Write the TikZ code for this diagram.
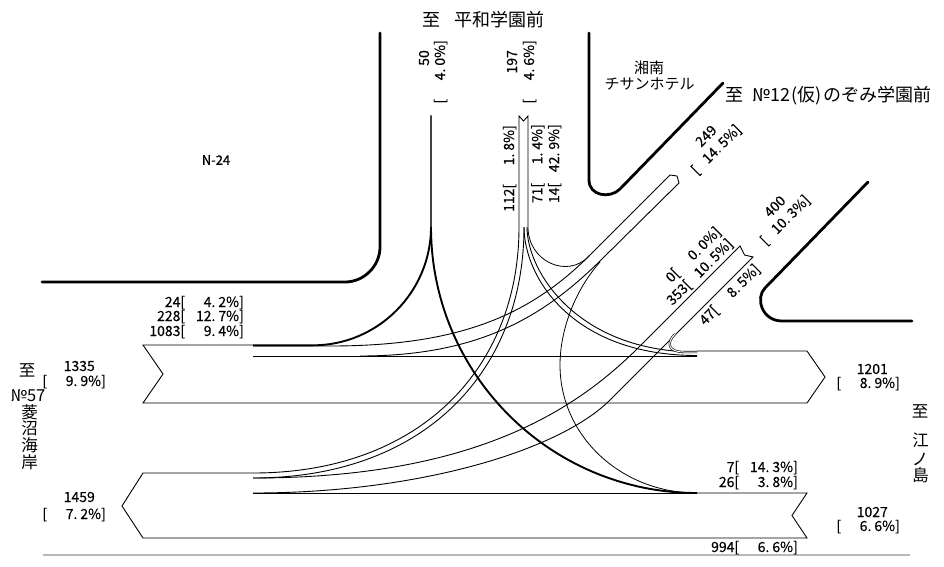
\documentclass[tikz,border=0pt]{standalone}
\usepackage{fontspec}
\setmainfont{Noto Sans CJK JP}
\newfontface\numfont{Noto Sans CJK JP}[FakeBold=0.4]
\newcommand\myfs[1]{\fontsize{#1}{#1}\selectfont}
\newcommand\pc[2]{[\makebox[41pt][r]{#1.\hspace{3pt}#2}\%]}
\begin{document}
\begin{tikzpicture}[x=1pt,y=-1pt,
  road/.style={line width=2.8pt,line cap=round,line join=round},
  edge/.style={line width=0.9pt,line join=miter},
  heavy/.style={line width=1.9pt},
  fine/.style={line width=0.8pt},
  twin/.style={double,double distance=1pt,line width=0.6pt},
  lab/.style={font=\numfont\myfs{14},inner sep=0pt},
  blk/.style={font=\numfont\fontsize{14}{16.8}\selectfont,inner sep=0pt,align=right},
  big/.style={font=\myfs{18},inner sep=0pt},
  mid/.style={font=\myfs{15},inner sep=0pt},
  vert/.style={font=\myfs{16.5},inner sep=0pt}]
\useasboundingbox (0,0) rectangle (944,566);

% road edges
\draw[road] (380,33) -- (380,247) .. controls (380,266) and (364,282) .. (345,282) -- (42,282);
\draw[road] (589,33) -- (589,180) .. controls (589,196) and (610,199) .. (620,189) -- (723,83);
\draw[road] (868,182) -- (765,288) .. controls (755,298) and (762,321) .. (782,321) -- (912,321);
\draw[gray!55,line width=1.5pt] (43,555) -- (910,555);

% upper (eastbound) band outline
\draw[edge] (253,345) -- (143,345) -- (163,374) -- (143,403) -- (807,403) -- (825,377) -- (807,351) -- (697,351);
\draw[edge] (253,356) -- (697,356);
% lower (westbound) band outline
\draw[edge] (253,473) -- (143,473) -- (122,506) -- (143,538) -- (807,538) -- (792,515.5) -- (807,493) -- (697,493);
\draw[edge] (253,493) -- (697,493);

% north approach: inbound band and exit
\draw[edge] (519,227) -- (519,116) -- (523.5,121) -- (528,116) -- (528,227);
\draw[line width=2.2pt,black!75,line cap=round] (431,116) -- (431,227);

% west -> north (24) and east -> north (26)
\draw[heavy] (431,227) .. controls (431,292) and (378,345.3) .. (313,345.3) -- (253,345.3);
\draw[heavy] (431,227) .. controls (431,374) and (550,493) .. (697,493);

% west -> NE (228) band with outbound tip
\draw[edge] (253,346) -- (330,346) .. controls (460,346) and (530,315) .. (590,255) -- (670,175)
  -- (677,176) -- (679,183) -- (603,258) .. controls (545,316) and (480,356) .. (360,356);

% north -> west (112)
\draw[edge] (519,227) .. controls (519,368) and (420,473) .. (253,473);
\draw[edge] (524,227) .. controls (524,372) and (424,478) .. (253,478);
% north -> east (71)
\draw[edge] (524,227) .. controls (524,277) and (572,355.5) .. (697,355.5);
\draw[edge] (527,227) .. controls (527,272) and (578,352) .. (697,352);
% north -> NE (14)
\draw[fine] (528,227) .. controls (528,262) and (568,279) .. (589,256);
% east -> NE (7)
\draw[fine] (697,493) .. controls (621,493) and (560,436) .. (560,365) .. controls (560,330) and (575,290) .. (600,262);

% NE inbound band (400) -> west (353)
\draw[edge] (253,478) .. controls (480,478) and (580,406) .. (640,346) -- (740,246)
  -- (744.5,255) -- (753,257) -- (610,400) .. controls (560,450) and (420,493) .. (253,493);
% NE -> east (47)
\draw[twin] (675,334) .. controls (666,343) and (668,352) .. (684,352) -- (697,352);

% labels: west side
\node[lab,anchor=base east] (l24) at (244,307) {24\pc{4}{2}};
\node[lab,anchor=base east] (l228) at (244,321) {228\pc{12}{7}};
\node[lab,anchor=base east] (l1083) at (244,336) {1083\pc{9}{4}};
\node[lab,anchor=base east] (n1335) at (95,371) {1335};
\node[lab,anchor=base east] (p1335) at (106,386) {\pc{9}{9}};
\node[lab,anchor=base east] (n1459) at (95,502) {1459};
\node[lab,anchor=base east] (p1459) at (106,519) {\pc{7}{2}};
% east side
\node[lab,anchor=base east] (n1201) at (888,374) {1201};
\node[lab,anchor=base east] (p1201) at (900,388) {\pc{8}{9}};
\node[lab,anchor=base east] (n1027) at (888,517) {1027};
\node[lab,anchor=base east] (p1027) at (900,531) {\pc{6}{6}};
\node[lab,anchor=base east] (l7) at (798,472) {7\pc{14}{3}};
\node[lab,anchor=base east] (l26) at (798,487) {26\pc{3}{8}};
\node[lab,anchor=base east] (l994) at (798,552) {994\pc{6}{6}};
% north side (rotated)
\node[lab,rotate=90,anchor=base east] (n50) at (429,50) {50};
\node[lab,rotate=90,anchor=base east] (p50) at (445,40) {\pc{4}{0}};
\node[lab,rotate=90,anchor=base east] (n197) at (517,50) {197};
\node[lab,rotate=90,anchor=base east] (p197) at (534,40) {\pc{4}{6}};
\node[lab,rotate=90,anchor=base east] (l112) at (514,125) {112\pc{1}{8}};
\node[blk,rotate=90,anchor=north east] (l71) at (531,124) {71\pc{1}{4}\\14\pc{42}{9}};
% north-east side (rotated 45)
\node[blk,rotate=45] (b249) at (710.6,144) {249\phantom{\%]}\\\pc{14}{5}};
\node[blk,rotate=45] (b400) at (779.5,214.5) {400\phantom{\%]}\\\pc{10}{3}};
\node[blk,rotate=45] (b353) at (694,266.4) {0\pc{0}{0}\\353\pc{10}{5}};
\node[lab,rotate=45] (l47) at (730,295) {47\pc{8}{5}};

% place names
\node[big] (tN) at (483.5,20) {至\hspace{14pt}平和学園前};
\node[big,anchor=west] (tNE) at (725,96) {至\hspace{9pt}№12\hspace{1.5pt}(仮)\hspace{1.5pt}のぞみ学園前};
\node[mid] (h1) at (649,67.5) {湘南};
\node[mid] (h2) at (649.5,84) {チサンホテル};
\node[font=\numfont\myfs{13},inner sep=0pt] (n24) at (216,160) {N-24};
\node[vert] (w1) at (27,370) {至};
\node[vert] (w2) at (28,396) {№57};
\node[vert] (w3) at (29.5,412) {菱};
\node[vert] (w4) at (29.5,428.5) {沼};
\node[vert] (w5) at (29.5,445.5) {海};
\node[vert] (w6) at (29.5,462.5) {岸};
\node[vert] (e1) at (920,411.5) {至};
\node[vert] (e2) at (920.5,440.5) {江};
\node[vert] (e3) at (920,459.5) {ノ};
\node[vert] (e4) at (920.5,475.5) {島};
\end{tikzpicture}
\end{document}
